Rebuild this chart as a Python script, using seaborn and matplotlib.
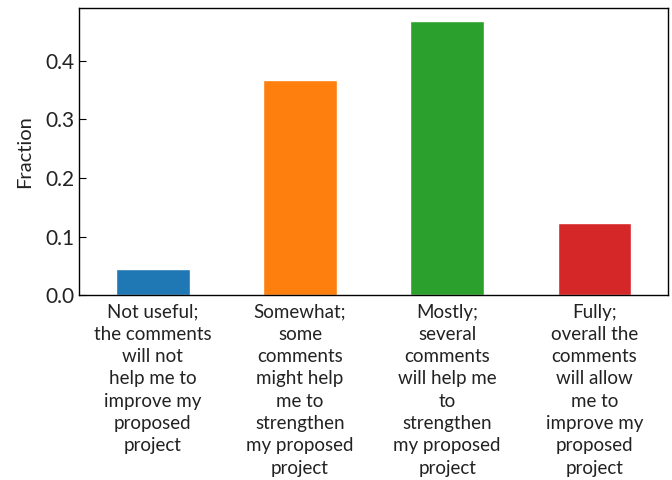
import matplotlib
matplotlib.use("Agg")
import matplotlib.pyplot as plt
import seaborn as sns
import pandas as pd

categories = [
    "Not useful;\nthe comments\nwill not\nhelp me to\nimprove my\nproposed\nproject",
    "Somewhat;\nsome\ncomments\nmight help\nme to\nstrengthen\nmy proposed\nproject",
    "Mostly;\nseveral\ncomments\nwill help me\nto\nstrengthen\nmy proposed\nproject",
    "Fully;\noverall the\ncomments\nwill allow\nme to\nimprove my\nproposed\nproject",
]
fractions = [0.045, 0.367, 0.468, 0.123]
colors = ["#1f77b4", "#ff7f0e", "#2ca02c", "#d62728"]

sns.set_style("ticks", {"xtick.direction": "in", "ytick.direction": "in"})
plt.rcParams["font.family"] = ["Lato", "DejaVu Sans"]

df = pd.DataFrame({"category": categories, "fraction": fractions})

fig, ax = plt.subplots(figsize=(6.72, 4.8), dpi=100)
sns.barplot(data=df, x="category", y="fraction", hue="category",
            palette=colors, width=0.5, saturation=1, legend=False, ax=ax)
ax.set_xlim(-0.5, 3.5)
ax.set_ylim(0, 0.49)
ax.set_yticks([0.0, 0.1, 0.2, 0.3, 0.4])
ax.set_xlabel("")
ax.set_ylabel("Fraction", fontsize=14.5, color="#222222", labelpad=9)
ax.tick_params(axis="y", labelsize=15, length=5, color="black", labelcolor="#222222")
ax.tick_params(axis="x", labelsize=13.5, length=5, pad=6, color="black", labelcolor="#222222")
for s in ax.spines.values():
    s.set_color("black")
    s.set_linewidth(1)
for lbl in ax.get_xticklabels():
    lbl.set_linespacing(1.38)
fig.subplots_adjust(left=0.118, right=0.994, top=0.983, bottom=0.385)
fig.savefig("out.png", dpi=100)
